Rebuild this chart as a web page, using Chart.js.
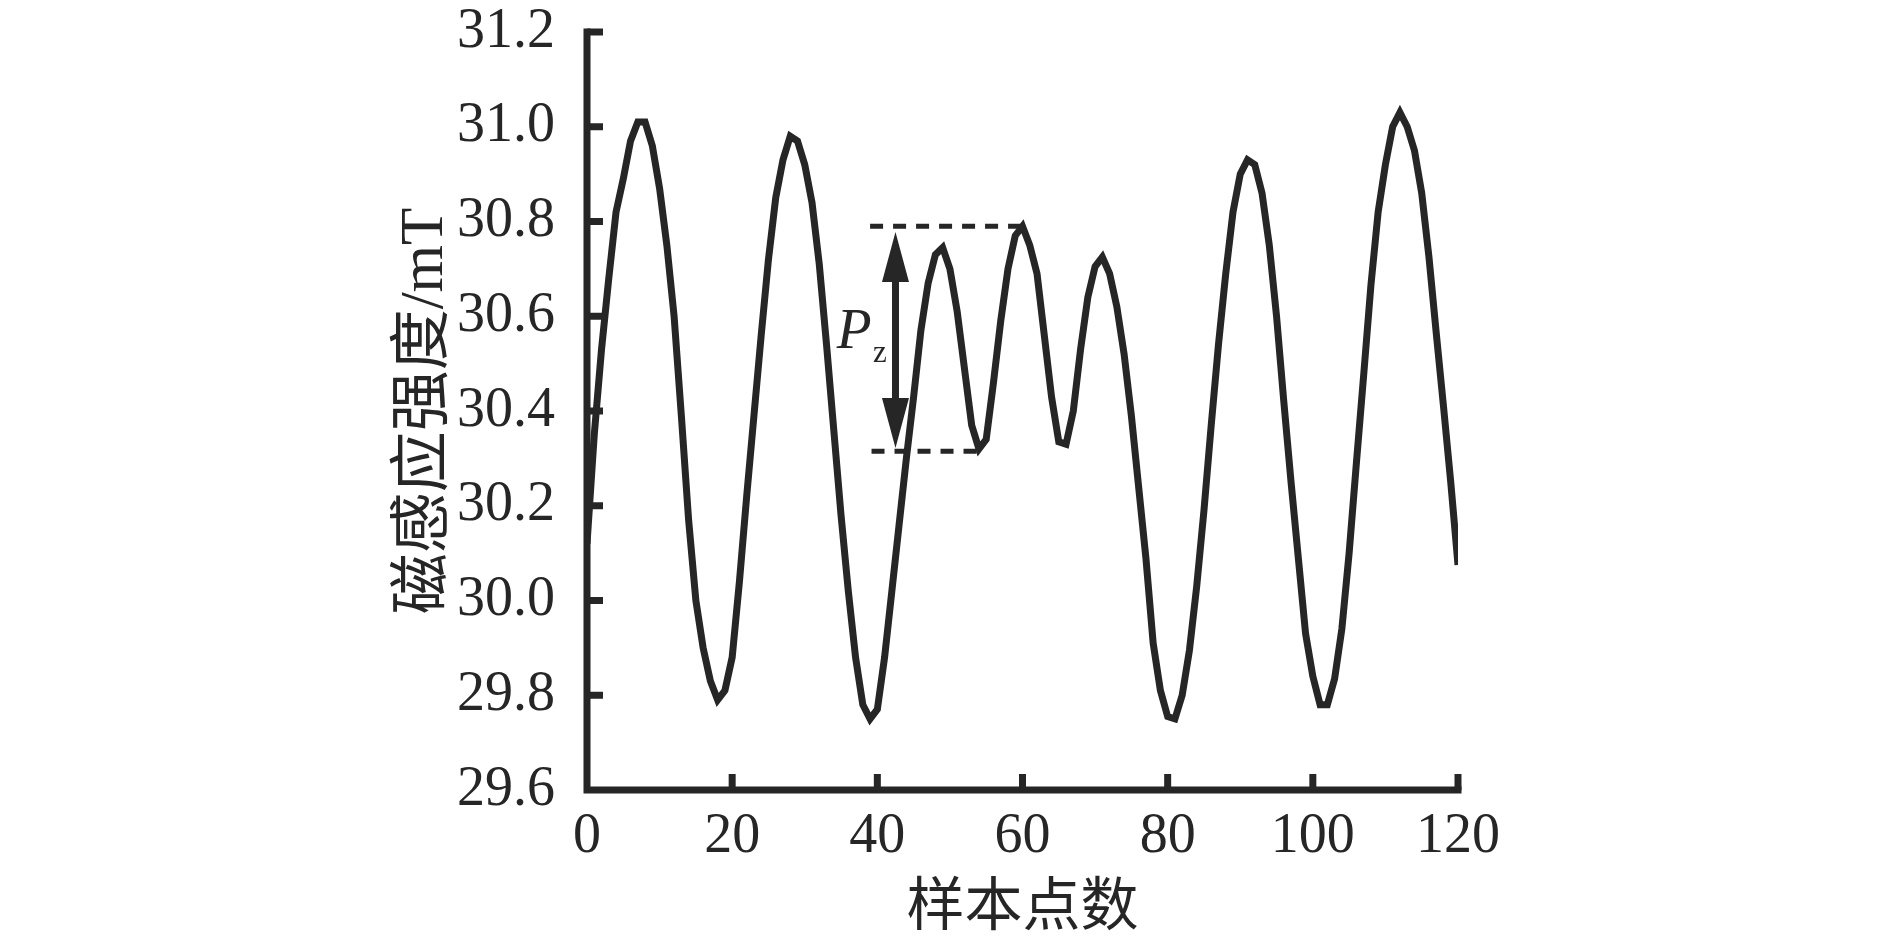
<!DOCTYPE html>
<html lang="zh">
<head>
<meta charset="utf-8">
<title>磁感应强度 - 样本点数</title>
<script src="https://cdn.jsdelivr.net/npm/chart.js@4.4.1/dist/chart.umd.min.js"></script>
<style>
  html, body { margin: 0; padding: 0; background: #fff; }
  #wrap { width: 1890px; height: 943px; }
</style>
</head>
<body>
<div id="wrap"><canvas id="magChart"></canvas></div>
<script>
/* ── Data (one value per sample point 0..120) ── */
const fieldValues = [
    30.12, 30.35, 30.53, 30.68, 30.82, 30.89, 30.97, 31.01, 31.01, 30.96,
    30.87, 30.75, 30.60, 30.39, 30.17, 30.00, 29.90, 29.83, 29.79, 29.81,
    29.88, 30.04, 30.22, 30.39, 30.56, 30.72, 30.85, 30.93, 30.98, 30.97,
    30.92, 30.84, 30.71, 30.54, 30.36, 30.18, 30.02, 29.88, 29.78, 29.75,
    29.77, 29.88, 30.02, 30.16, 30.30, 30.43, 30.57, 30.67, 30.73, 30.745,
    30.70, 30.61, 30.49, 30.37, 30.32, 30.34, 30.46, 30.59, 30.70, 30.77,
    30.79, 30.75, 30.69, 30.56, 30.43, 30.335, 30.33, 30.40, 30.53, 30.64,
    30.705, 30.725, 30.69, 30.62, 30.52, 30.39, 30.24, 30.09, 29.91, 29.81,
    29.755, 29.75, 29.80, 29.895, 30.03, 30.19, 30.37, 30.54, 30.69, 30.82,
    30.90, 30.93, 30.92, 30.86, 30.75, 30.60, 30.42, 30.25, 30.09, 29.93,
    29.84, 29.78, 29.78, 29.835, 29.94, 30.10, 30.29, 30.475, 30.665, 30.82,
    30.92, 31.00, 31.03, 31.00, 30.95, 30.86, 30.725, 30.565, 30.41, 30.25,
    30.075
];
const xTicks = [0, 20, 40, 60, 80, 100, 120];
const yTicks = [29.6, 29.8, 30.0, 30.2, 30.4, 30.6, 30.8, 31.0, 31.2];

// P_z annotation (data units)
const pzUpper = { from: 39, to: 60, value: 30.79 };
const pzLower = { from: 39.2, to: 53.9, value: 30.315 };
const pzArrow = { x: 42.5, top: 30.778, bottom: 30.322 };
const pzLabel = { x: 34.4, y: 30.533 };
const pzSub = { x: 39.4, y: 30.503 };

const INK = '#262626';
const SERIF = "'Liberation Serif', 'Noto Sans CJK SC', serif";

/* ── Axis frame + inward ticks ── */
const frameAndTicks = {
    id: 'frameAndTicks',
    afterDraw(chart) {
        const { ctx, chartArea: a, scales: { x, y } } = chart;
        ctx.save();
        ctx.strokeStyle = INK;
        ctx.lineWidth = 7;
        ctx.lineCap = 'square';
        ctx.beginPath();
        ctx.moveTo(a.left, a.top);
        ctx.lineTo(a.left, a.bottom);
        ctx.lineTo(a.right, a.bottom);
        ctx.stroke();

        ctx.lineCap = 'butt';
        xTicks.slice(1).forEach(v => {
            const px = x.getPixelForValue(v);
            ctx.beginPath(); ctx.moveTo(px, a.bottom); ctx.lineTo(px, a.bottom - 16); ctx.stroke();
        });
        yTicks.slice(1).forEach(v => {
            const py = y.getPixelForValue(v);
            ctx.beginPath(); ctx.moveTo(a.left, py); ctx.lineTo(a.left + 16, py); ctx.stroke();
        });
        ctx.restore();
    }
};

/* ── P_z peak-to-peak marker ── */
const pzMarker = {
    id: 'pzMarker',
    afterDatasetsDraw(chart) {
        const { ctx, scales: { x, y } } = chart;
        ctx.save();
        ctx.strokeStyle = INK;
        ctx.fillStyle = INK;

        // dashed reference lines
        ctx.lineWidth = 5;
        ctx.setLineDash([13, 10]);
        [pzUpper, pzLower].forEach(d => {
            const py = y.getPixelForValue(d.value);
            ctx.beginPath();
            ctx.moveTo(x.getPixelForValue(d.from), py);
            ctx.lineTo(x.getPixelForValue(d.to), py);
            ctx.stroke();
        });
        ctx.setLineDash([]);

        // double arrow
        const ax = x.getPixelForValue(pzArrow.x);
        const t = y.getPixelForValue(pzArrow.top);
        const b = y.getPixelForValue(pzArrow.bottom);
        const headH = 50, headW = 27;
        ctx.lineWidth = 7;
        ctx.beginPath(); ctx.moveTo(ax, t + headH - 2); ctx.lineTo(ax, b - headH + 2); ctx.stroke();
        ctx.beginPath(); ctx.moveTo(ax, t); ctx.lineTo(ax - headW / 2, t + headH); ctx.lineTo(ax + headW / 2, t + headH); ctx.closePath(); ctx.fill();
        ctx.beginPath(); ctx.moveTo(ax, b); ctx.lineTo(ax - headW / 2, b - headH); ctx.lineTo(ax + headW / 2, b - headH); ctx.closePath(); ctx.fill();

        // label
        ctx.textAlign = 'left';
        ctx.textBaseline = 'alphabetic';
        ctx.font = "italic 57px 'Liberation Serif', serif";
        ctx.fillText('P', x.getPixelForValue(pzLabel.x), y.getPixelForValue(pzLabel.y));
        ctx.font = "31px 'Liberation Serif', serif";
        ctx.fillText('z', x.getPixelForValue(pzSub.x), y.getPixelForValue(pzSub.y));
        ctx.restore();
    }
};

new Chart(document.getElementById('magChart'), {
    type: 'line',
    data: {
        datasets: [{
            data: fieldValues.map((v, i) => ({ x: i, y: v })),
            borderColor: INK,
            borderWidth: 7,
            pointRadius: 0,
            tension: 0,
            fill: false
        }]
    },
    options: {
        responsive: true,
        maintainAspectRatio: false,
        animation: false,
        events: [],
        layout: { padding: { left: 0, top: 32, right: 432, bottom: 0 } },
        plugins: { legend: { display: false }, tooltip: { enabled: false } },
        scales: {
            x: {
                type: 'linear',
                min: 0, max: 120,
                afterFit: s => { s.height = 153; s.paddingLeft = 0; s.paddingRight = 0; },
                afterBuildTicks: s => { s.ticks = xTicks.map(v => ({ value: v })); },
                grid: { display: false },
                border: { display: false },
                ticks: {
                    color: INK, padding: 6,
                    font: { family: SERIF, size: 56, lineHeight: 1.2 },
                    maxRotation: 0, autoSkip: false
                },
                title: {
                    display: true, text: '样本点数', color: INK,
                    font: { family: SERIF, size: 58, lineHeight: 1.1 },
                    padding: { top: 0, bottom: 1 }
                }
            },
            y: {
                min: 29.6, max: 31.2,
                afterFit: s => { s.width = 587; s.paddingTop = 0; s.paddingBottom = 0; },
                afterBuildTicks: s => { s.ticks = yTicks.map(v => ({ value: v })); },
                grid: { display: false },
                border: { display: false },
                ticks: {
                    color: INK, padding: 24,
                    font: { family: SERIF, size: 56, lineHeight: 1.0 },
                    callback: v => Number(v).toFixed(1)
                },
                title: {
                    display: true, text: '磁感应强度/mT', color: INK,
                    font: { family: SERIF, size: 61, lineHeight: 1.2 },
                    padding: { top: 389, bottom: 0 }
                }
            }
        }
    },
    plugins: [pzMarker, frameAndTicks]
});
</script>
</body>
</html>
